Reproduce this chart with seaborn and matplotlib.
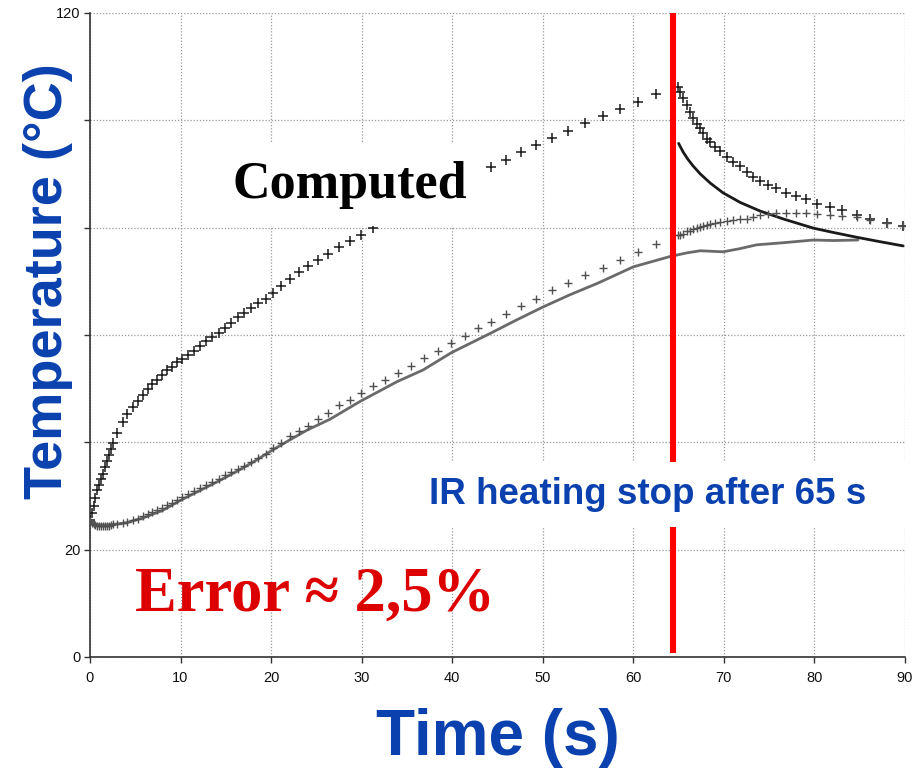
import numpy as np
import pandas as pd
import matplotlib
matplotlib.use("Agg")
import matplotlib.pyplot as plt
from matplotlib.patches import Rectangle
import seaborn as sns

# ---------------- data ----------------
# common sampling times of the "+" series during heating (s)
t_heat = [0.0, 0.2, 0.4, 0.6, 0.8, 1.0, 1.2, 1.4, 1.7, 1.9, 2.1, 2.3, 2.5, 3.0, 3.6,
          4.1, 4.7, 5.3, 5.9, 6.4, 6.9, 7.4, 7.9, 8.5, 9.0, 9.6, 10.2, 10.8, 11.5,
          12.1, 12.8, 13.5, 14.2, 14.9, 15.6, 16.3, 17.0, 17.8, 18.6, 19.4, 20.2,
          21.1, 22.1, 23.1, 24.1, 25.2, 26.3, 27.5, 28.7, 29.9, 31.2, 32.6, 34.0,
          35.4, 36.9, 38.4, 39.9, 41.4, 42.9, 44.3, 45.9, 47.6, 49.3, 51.0, 52.8,
          54.7, 56.6, 58.5, 60.5, 62.5, 64.9]
# computed surface temperature (upper "+")
surf_heat = [25.5, 26.8, 28.2, 29.7, 31.1, 32.1, 33.1, 34.1, 35.4, 36.5, 37.6, 38.8,
             39.9, 41.8, 43.8, 45.2, 46.6, 47.7, 48.8, 49.9, 50.8, 51.6, 52.5, 53.4,
             54.1, 54.9, 55.6, 56.3, 57.1, 57.9, 58.8, 59.6, 60.4, 61.3, 62.3, 63.3,
             64.1, 65.0, 65.9, 66.8, 67.8, 69.2, 70.5, 71.8, 72.8, 74.0, 75.1, 76.4,
             77.5, 78.6, 79.9, 81.2, 82.5, 83.8, 85.1, 86.4, 87.6, 88.8, 90.0, 91.3,
             92.7, 94.1, 95.4, 96.7, 98.0, 99.5, 100.8, 102.1, 103.5, 104.9, 106.3]
# computed inner temperature (lower "+")
core_heat = [25.3, 25.0, 24.8, 24.6, 24.5, 24.5, 24.4, 24.4, 24.4, 24.5, 24.5, 24.6,
             24.7, 24.8, 25.0, 25.2, 25.5, 25.8, 26.2, 26.6, 27.0, 27.4, 27.8, 28.3,
             28.7, 29.2, 29.8, 30.3, 30.9, 31.4, 32.0, 32.6, 33.2, 33.9, 34.5, 35.0,
             35.6, 36.3, 37.1, 37.9, 38.9, 39.9, 41.1, 42.1, 43.1, 44.3, 45.4, 46.9,
             47.8, 49.1, 50.5, 51.6, 53.0, 54.3, 55.7, 57.1, 58.5, 59.9, 61.3, 62.5,
             63.9, 65.4, 66.8, 68.3, 69.7, 71.2, 72.5, 74.0, 75.4, 77.0, 78.6]

# sampling times of the "+" series after the heating stop (s)
t_cool = [65.15, 65.5, 65.9, 66.25, 66.6, 67.0, 67.35, 67.7, 68.1, 68.5, 69.0, 69.6,
          70.3, 71.0, 71.8, 72.5, 73.2, 74.0, 74.9, 75.8, 76.9, 78.0, 79.1, 80.3,
          81.7, 83.0, 84.7, 86.1, 88.0, 89.8]
surf_cool = [105.3, 104.1, 102.9, 101.6, 100.4, 99.4, 98.5, 97.6, 96.6, 96.0, 95.1,
             94.2, 93.2, 92.3, 91.4, 90.4, 89.5, 88.7, 87.9, 87.3, 86.5, 85.9, 85.3,
             84.5, 83.9, 83.3, 82.4, 81.6, 80.8, 80.4]
core_cool = [78.6, 78.9, 79.3, 79.4, 79.7, 79.9, 80.1, 80.3, 80.5, 80.6, 80.9, 81.1,
             81.2, 81.4, 81.6, 81.7, 82.0, 82.3, 82.5, 82.7, 82.7, 82.7, 82.7, 82.5,
             82.4, 82.2, 81.9, 81.4, 80.8, 80.4]

# measured inner temperature (grey solid line)
t_meas = [0.0, 1.0, 2.0, 4.0, 6.0, 8.0, 10.0, 12.0, 14.0, 16.0, 18.0, 20.0, 22.0,
          24.0, 26.5, 29.8, 33.9, 36.8, 39.9, 44.2, 47.1, 50.0, 53.0, 56.0, 60.0,
          64.0, 65.9, 67.4, 69.9, 71.8, 73.6, 76.6, 79.9, 82.1, 84.8]
meas_core = [25.0, 24.6, 24.6, 25.0, 26.0, 27.3, 29.2, 30.9, 32.6, 34.4, 36.3, 38.4,
             40.4, 42.3, 44.3, 47.6, 51.3, 53.5, 56.7, 60.3, 62.8, 65.2, 67.5, 69.6,
             72.7, 74.6, 75.3, 75.7, 75.5, 76.1, 76.8, 77.2, 77.7, 77.6, 77.7]

# measured surface temperature after the stop (black solid line)
t_meas_cool = [65.0, 65.5, 66.0, 66.6, 67.4, 68.5, 69.9, 71.8, 74.0, 76.6, 79.9,
               82.1, 84.7, 87.2, 89.8]
meas_surf = [95.7, 94.1, 92.8, 91.5, 90.0, 88.3, 86.5, 84.7, 83.1, 81.6, 79.9,
             79.1, 78.2, 77.4, 76.6]

t_stop = 64.4
x_ticks = [0, 10, 20, 30, 40, 50, 60, 70, 80, 90]
x_tick_labels = ["0", "10", "20", "30", "40", "50", "60", "70", "80", "90"]
y_ticks = [0, 20, 40, 60, 80, 100, 120]
y_tick_labels = ["0", "20", "", "", "", "", "120"]

# ---------------- figure ----------------
sns.set_theme(style="white")
plt.rcParams["font.family"] = ["Liberation Sans", "DejaVu Sans"]

BLUE = "#0b41ae"
fig = plt.figure(figsize=(9.19, 7.70), dpi=100)
ax = fig.add_axes([90 / 919, 1 - 657 / 770, 815 / 919, 644 / 770])

df_heat = pd.DataFrame({"t": t_heat, "surf": surf_heat, "core": core_heat})
df_cool = pd.DataFrame({"t": t_cool, "surf": surf_cool, "core": core_cool})
df_meas = pd.DataFrame({"t": t_meas, "T": meas_core})
df_meas2 = pd.DataFrame({"t": t_meas_cool, "T": meas_surf})

sns.lineplot(data=df_meas, x="t", y="T", ax=ax, color="#6a6a6a", linewidth=2.0,
             zorder=2)
sns.lineplot(data=df_meas2, x="t", y="T", ax=ax, color="#1a1a1a", linewidth=2.0,
             zorder=2)
for d in (df_heat, df_cool):
    sns.scatterplot(data=d, x="t", y="surf", ax=ax, marker="+", s=55,
                    color="#1a1a1a", linewidth=1.1, zorder=3)
    sns.scatterplot(data=d, x="t", y="core", ax=ax, marker="+", s=40,
                    color="#505050", linewidth=1.0, zorder=3)

ax.vlines(t_stop, 0.8, 120, color="#ff0000", linewidth=4.4, zorder=4)

ax.set_xlim(0, 90)
ax.set_ylim(0, 120)
ax.set_xticks(x_ticks)
ax.set_xticklabels(x_tick_labels)
ax.set_yticks(y_ticks)
ax.set_yticklabels(y_tick_labels)
ax.tick_params(axis="both", which="major", direction="out", length=4, width=1,
               color="#333333", labelsize=10.5, labelcolor="#111111", pad=3,
               bottom=True, left=True)
ax.tick_params(axis="x", pad=6)

ax.grid(True, linestyle=(0, (1, 1.5)), color="#9a9a9a", linewidth=0.9, zorder=0)
ax.set_axisbelow(True)
for side in ("top", "right"):
    ax.spines[side].set_visible(False)
for side in ("left", "bottom"):
    ax.spines[side].set_color("#333333")
    ax.spines[side].set_linewidth(1.2)

ax.set_xlabel("Time (s)", fontsize=46, fontweight="bold", color=BLUE, labelpad=17)
ax.set_ylabel("Temperature (°C)", fontsize=39, fontweight="bold", color=BLUE)
ax.yaxis.set_label_coords(-0.021, 0.584)

# white backgrounds behind the annotations
ax.add_patch(Rectangle((12.1, 80.3), 31.5, 15.7, facecolor="white", edgecolor="none",
                       zorder=5))
ax.add_patch(Rectangle((36.4, 24.2), 54.7, 12.1, facecolor="white", edgecolor="none",
                       zorder=5, clip_on=False))

ax.text(28.7, 87.9, "Computed", fontsize=37.5, fontweight="bold", color="black",
        family=["Liberation Serif", "DejaVu Serif"], ha="center", va="center",
        zorder=6)
ax.text(61.6, 30.2, "IR heating stop after 65 s", fontsize=26.5, fontweight="bold",
        color=BLUE, ha="center", va="center", zorder=6)
ax.text(24.9, 11.5, "Error \u2248 2,5%", fontsize=45, fontweight="bold",
        color="#dd0000", family=["Liberation Serif", "DejaVu Serif"],
        ha="center", va="center", zorder=6)

fig.savefig("out.png", dpi=100)
